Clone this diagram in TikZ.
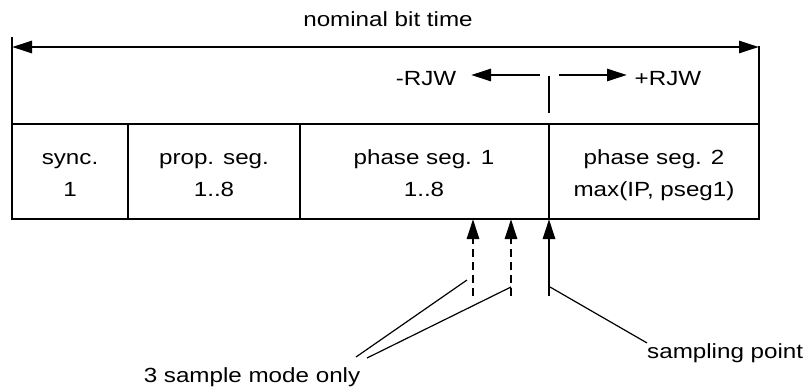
\documentclass[tikz,border=0pt]{standalone}
\usepackage{fontspec}
\setmainfont[FakeStretch=1.18]{Liberation Sans}
\usetikzlibrary{arrows.meta}

\tikzset{
  frame/.style={line width=2.5pt},
  bigarrow/.style={line width=2.8pt,-{Triangle[length=20pt,width=12pt]}},
  dasharrow/.style={bigarrow,dash pattern=on 8pt off 5pt},
  leader/.style={line width=1.2pt},
  lbl/.style={inner sep=0pt,anchor=base,font=\fontsize{20.5}{24}\selectfont},
}

\begin{document}
\begin{tikzpicture}[x=1pt,y=-1pt]
    \useasboundingbox (0,0) rectangle (809,388);

    % frame of the bit
    \draw[frame] (12,37) -- (12,219) -- (759,219) -- (759,46);
    \draw[frame] (12,124) -- (759,124);
    \foreach \x in {128,300,549}
        \draw[frame] (\x,124) -- (\x,219);

    % nominal bit time
    \node[lbl] (nominal) at (388,26) {nominal bit time};
    \coordinate (bitstart) at (12,47);
    \coordinate (bitend) at (759,47);
    \draw[line width=2.8pt,{Triangle[length=20pt,width=12pt]}-{Triangle[length=20pt,width=12pt]}] (bitstart) -- (bitend);

    % resynchronisation jump width
    \draw[frame] (549,76) -- (549,113);
    \node[lbl] (rjwminus) at (426,85) {-RJW};
    \node[lbl] (rjwplus) at (668,85) {+RJW};
    \coordinate (rjwl) at (540,75);
    \coordinate (rjwr) at (559,75);
    \coordinate (rjwltip) at (471,75);
    \coordinate (rjwrtip) at (627,75);
    \draw[bigarrow] (rjwl) -- (rjwltip);
    \draw[bigarrow] (rjwr) -- (rjwrtip);

    % segments
    \node[lbl] (sync) at (70,164) {sync.};
    \node[lbl] (syncn) at (70,196) {1};
    \node[lbl] (prop) at (214,164) {prop. seg.};
    \node[lbl] (propn) at (214,196) {1..8};
    \node[lbl] (phaseone) at (424,164) {phase seg. 1};
    \node[lbl] (phaseonen) at (424,196) {1..8};
    \node[lbl] (phasetwo) at (654,164) {phase seg. 2};
    \node[lbl] (phasetwon) at (654,196) {max(IP, pseg1)};

    % sample points
    \coordinate (sa) at (473,219);
    \coordinate (sb) at (511,219);
    \coordinate (sc) at (549,219);
    \draw[dasharrow] (473,296) -- (sa);
    \draw[dasharrow] (511,296) -- (sb);
    \draw[bigarrow] (549,296) -- (sc);

    % labels
    \node[lbl] (threesample) at (252,382) {3 sample mode only};
    \node[lbl,anchor=base west] (sampling) at (647,358) {sampling point};
    \coordinate (la) at (467,280);
    \coordinate (lb) at (511,287);
    \coordinate (lc) at (550,287);
    \coordinate (ea) at (356,357);
    \coordinate (eb) at (367,358);
    \draw[leader] (la) -- (ea);
    \draw[leader] (lb) -- (eb);
    \draw[leader] (lc) -- (sampling.north west);
\end{tikzpicture}
\end{document}
